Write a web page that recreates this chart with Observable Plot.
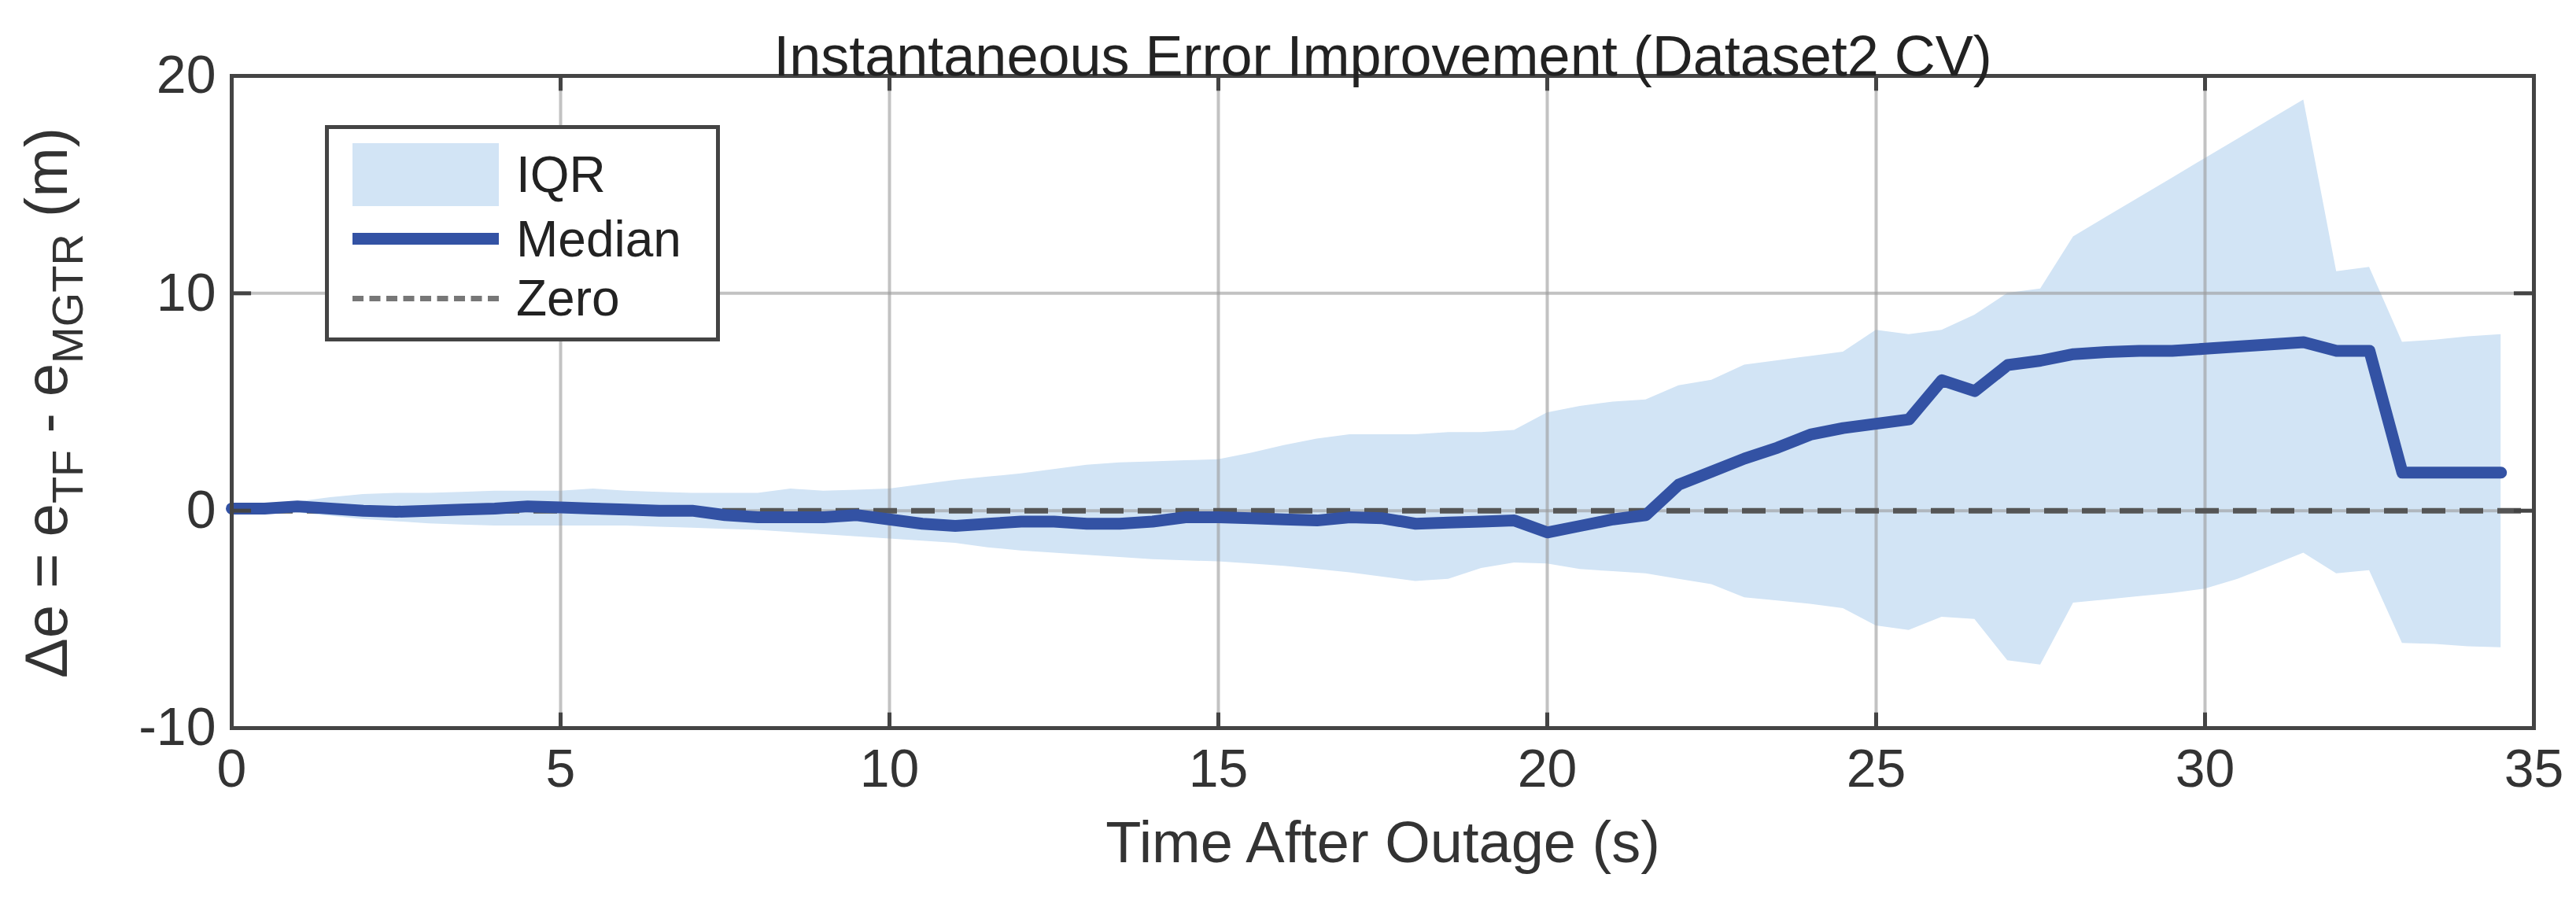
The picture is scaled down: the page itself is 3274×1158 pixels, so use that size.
<!DOCTYPE html>
<html><head><meta charset="utf-8">
<script src="https://cdn.jsdelivr.net/npm/d3@7"></script>
<script src="https://cdn.jsdelivr.net/npm/@observablehq/plot@0.6"></script>
<style>
body{margin:0;background:#fff;font-family:"Liberation Sans",Arial,sans-serif;}
#wrap{position:relative;width:3274px;height:1158px;}
#legend{position:absolute;left:413px;top:159px;width:492px;height:265px;border:5px solid #444;background:#fff;font-size:64px;color:#222;}
.row{position:absolute;left:30px;display:flex;align-items:center;}
#ylab{position:absolute;left:66px;top:512px;transform:translate(-50%,-50%) rotate(-90deg);white-space:nowrap;font-size:76px;color:#333;}
#ylab sub{font-size:56px;vertical-align:-20px;}
</style></head>
<body><div id="wrap"></div>
<script>
const time = d3.range(0, 34.51, 0.5);
const median = [0.1,0.1,0.2,0.1,0,-0.05,0,0.05,0.1,0.2,0.15,0.1,0.05,0,0,-0.2,-0.3,-0.3,-0.3,-0.2,-0.4,-0.6,-0.7,-0.6,-0.5,-0.5,-0.6,-0.6,-0.5,-0.3,-0.3,-0.35,-0.4,-0.45,-0.3,-0.35,-0.6,-0.55,-0.5,-0.45,-1.0,-0.7,-0.4,-0.2,1.2,1.8,2.4,2.9,3.5,3.8,4.0,4.2,6.0,5.5,6.7,6.9,7.2,7.3,7.35,7.35,7.45,7.55,7.65,7.75,7.35,7.35,1.75,1.75,1.75,1.75];
const upper = [0.1,0.3,0.4,0.6,0.75,0.8,0.8,0.85,0.9,0.9,0.9,1.0,0.9,0.85,0.8,0.8,0.8,1.0,0.9,0.95,1.0,1.2,1.4,1.55,1.7,1.9,2.1,2.2,2.25,2.3,2.35,2.65,3.0,3.3,3.5,3.5,3.5,3.6,3.6,3.7,4.5,4.8,5.0,5.1,5.75,6.0,6.7,6.9,7.1,7.3,8.3,8.1,8.3,9.0,10.0,10.2,12.6,13.5,14.4,15.3,16.2,17.1,18.0,18.9,11.0,11.2,7.75,7.85,8.0,8.1];
const lower = [0,-0.05,-0.1,-0.25,-0.4,-0.5,-0.6,-0.65,-0.7,-0.7,-0.7,-0.7,-0.7,-0.75,-0.8,-0.85,-0.9,-1.0,-1.1,-1.2,-1.3,-1.4,-1.5,-1.7,-1.85,-1.95,-2.05,-2.15,-2.25,-2.3,-2.35,-2.45,-2.55,-2.7,-2.85,-3.05,-3.25,-3.15,-2.65,-2.4,-2.45,-2.7,-2.8,-2.9,-3.15,-3.4,-4.0,-4.15,-4.3,-4.5,-5.3,-5.5,-4.9,-5.0,-6.9,-7.1,-4.25,-4.1,-3.95,-3.8,-3.6,-3.15,-2.55,-1.95,-2.9,-2.75,-6.1,-6.15,-6.25,-6.3];
const xTicks = [0,5,10,15,20,25,30,35];
const yTicks = [-10,0,10,20];
const data = time.map((t,i)=>({t, m:median[i], lo:lower[i], hi:upper[i]}));

const plot = Plot.plot({
  width:3274, height:1158,
  marginLeft:294, marginRight:54, marginTop:96, marginBottom:233,
  style:{fontFamily:"Liberation Sans, Arial, sans-serif", fontSize:"68px", color:"#333", background:"#fff"},
  x:{domain:[0,35]}, y:{domain:[-10,20]},
  marks:[
    Plot.areaY(data,{x:"t",y1:"lo",y2:"hi",fill:"#d2e4f5"}),
    Plot.ruleX(xTicks.slice(1,-1),{stroke:"#999",strokeOpacity:0.6,strokeWidth:4}),
    Plot.ruleY(yTicks.slice(1,-1),{stroke:"#999",strokeOpacity:0.6,strokeWidth:4}),
    Plot.ruleY([0],{stroke:"#555",strokeWidth:7,strokeDasharray:"30,18"}),
    Plot.lineY(data,{x:"t",y:"m",stroke:"#3352a4",strokeWidth:15}),
    Plot.ruleX(xTicks,{y1:-10,y2:-9.3,stroke:"#444",strokeWidth:5}),
    Plot.ruleX(xTicks,{y1:20,y2:19.3,stroke:"#444",strokeWidth:5}),
    Plot.ruleY(yTicks,{x1:0,x2:0.3,stroke:"#444",strokeWidth:5}),
    Plot.ruleY(yTicks,{x1:35,x2:34.7,stroke:"#444",strokeWidth:5}),
    Plot.frame({stroke:"#444",strokeWidth:5}),
    Plot.axisX(xTicks,{tickSize:0,tickPadding:26,label:null,fontSize:68,tickFormat:d=>String(d)}),
    Plot.axisY(yTicks,{tickSize:0,tickPadding:20,label:null,fontSize:68,tickFormat:d=>String(d)}),
    Plot.text(["Time After Outage (s)"],{frameAnchor:"bottom",dy:170,fontSize:74,fill:"#333"}),
    Plot.text(["Instantaneous Error Improvement (Dataset2 CV)"],{frameAnchor:"top",dy:-52,fontSize:72,fill:"#222"})
  ]
});
const wrap = document.getElementById("wrap");
wrap.appendChild(plot);
wrap.insertAdjacentHTML("beforeend", `
<div id="legend">
 <div class="row" style="top:18px"><div style="width:186px;height:80px;background:#d2e4f5"></div><span style="margin-left:22px">IQR</span></div>
 <div class="row" style="top:102px"><div style="width:186px;height:15px;background:#3352a4;margin:30px 0"></div><span style="margin-left:22px">Median</span></div>
 <div class="row" style="top:178px"><div style="width:186px;border-top:7px dashed #777"></div><span style="margin-left:22px">Zero</span></div>
</div>
<div id="ylab">Δe = e<sub>TF</sub> - e<sub>MGTR</sub> (m)</div>`);
</script></body></html>
